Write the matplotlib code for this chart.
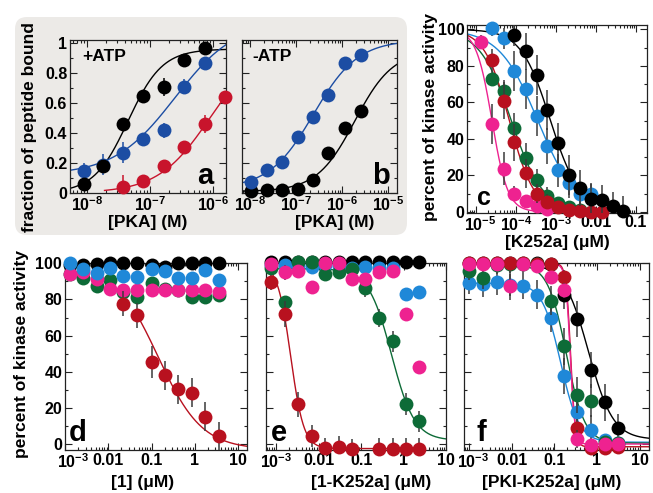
import numpy as np
import matplotlib
matplotlib.use('Agg')
import matplotlib.pyplot as plt
from matplotlib.ticker import FixedLocator, FixedFormatter, LogLocator, MultipleLocator, NullFormatter
from matplotlib.patches import FancyBboxPatch
from matplotlib.transforms import ScaledTranslation

plt.rcParams['font.family'] = ['Liberation Sans', 'DejaVu Sans']
plt.rcParams['font.weight'] = 'bold'
plt.rcParams['mathtext.fontset'] = 'custom'
plt.rcParams['mathtext.rm'] = 'Liberation Sans:bold'
plt.rcParams['mathtext.bf'] = 'Liberation Sans:bold'
plt.rcParams['mathtext.it'] = 'Liberation Sans:bold'
plt.rcParams['mathtext.sf'] = 'Liberation Sans:bold'

# ---------------- colours ----------------
BLACK = '#000000'
BLUE_AB = '#1c4da3'
RED_AB = '#c8142c'
BLUE = '#1f88d8'
GREEN = '#0d6b37'
RED = '#b8111f'
PINK = '#ee2290'
EBAR = '#3a3a3a'

# ---------------- panel a (+ATP) ----------------
a_x = [8.9e-9, 1.82e-8, 3.8e-8, 7.9e-8, 1.7e-7, 3.47e-7, 7.4e-7]
a_black = [0.06, 0.18, 0.46, 0.65, 0.71, 0.89, 0.97]
a_black_err = [0.02, 0.03, 0.04, 0.03, 0.06, 0.03, 0.03]
a_blue = [0.15, 0.19, 0.27, 0.36, 0.42, 0.71, 0.87]
a_blue_err = [0.05, 0.07, 0.07, 0.04, 0.05, 0.05, 0.03]
a_red_x = [3.8e-8, 7.9e-8, 1.7e-7, 3.47e-7, 7.4e-7, 1.55e-6]
a_red = [0.04, 0.08, 0.18, 0.31, 0.46, 0.64]
a_red_err = [0.08, 0.03, 0.02, 0.03, 0.06, 0.02]
# fitted binding curves (bottom, top, K, n)
a_black_fit = (0.0, 0.96, 4.5e-8, 1.6)
a_blue_fit = (0.12, 1.15, 2.5e-7, 0.9)
a_red_fit = (0.0, 1.0, 9e-7, 1.05)

# ---------------- panel b (-ATP) ----------------
b_x = [1.05e-8, 2.29e-8, 4.9e-8, 1.12e-7, 2.4e-7, 5.0e-7, 1.17e-6, 2.57e-6]
b_blue = [0.075, 0.153, 0.21, 0.375, 0.505, 0.655, 0.864, 0.92]
b_black = [0.015, 0.02, 0.02, 0.027, 0.087, 0.265, 0.435, 0.545]
b_blue_fit = (0.03, 1.02, 2.4e-7, 0.9)
b_black_fit = (0.01, 0.95, 1.9e-6, 1.05)

# ---------------- panel c (K252a) ----------------
c_black_x = [9.1e-5, 1.78e-4, 3.31e-4, 6.03e-4, 1.12e-3, 2.14e-3, 3.98e-3, 7.59e-3, 1.38e-2, 2.69e-2, 4.79e-2]
c_black = [97, 88, 75, 56, 37.5, 20, 13, 7, 6.5, 3, 0.5]
c_black_err = [6, 10, 11, 11, 11, 11, 10, 9, 8, 8, 8]
c_blue_x = [2.51e-5, 5.0e-5, 9.1e-5, 1.78e-4, 3.31e-4, 6.03e-4, 1.12e-3, 2.14e-3, 3.98e-3, 7.59e-3]
c_blue = [100.5, 95, 77, 67.5, 52.5, 36, 22.8, 15.6, 9.7, 9.5]
c_blue_err = [4, 6, 11, 11, 11, 10, 9, 8, 6, 6]
c_green_x = [2.51e-5, 5.0e-5, 9.1e-5, 1.78e-4, 3.31e-4, 6.03e-4, 1.12e-3, 2.14e-3, 3.98e-3]
c_green = [73, 66, 46, 29.5, 17.3, 8.5, 5, 2.5, 1]
c_green_err = [4, 6, 8, 8, 6, 5, 3, 2, 1]
c_red_x = [2.51e-5, 5.0e-5, 9.1e-5, 1.78e-4, 3.31e-4, 6.03e-4, 1.12e-3, 2.14e-3, 3.98e-3, 7.59e-3, 1.38e-2]
c_red = [83, 61, 38, 21, 10, 5.5, 2.7, 1, 0.5, 0, 0]
c_red_err = [6, 10, 10, 8, 5, 4, 2, 1, 1, 1, 1]
c_pink_x = [1.32e-5, 2.51e-5, 5.0e-5, 9.1e-5, 1.78e-4, 3.31e-4, 6.03e-4]
c_pink = [93, 48, 23.7, 10, 5.8, 3, 1.3]
c_pink_err = [4, 11, 9, 4, 2, 1, 1]
# inhibition fits (top, bottom, IC50, n, x_start, x_end)
c_black_fit = (100, 1.5, 7.08e-4, 1.2, 10 ** -5.22, 6e-2)
c_blue_fit = (100, 0, 3.5e-4, 0.9, 10 ** -5.22, 1e-2)
c_green_fit = (100, 0, 7.6e-5, 1.1, 10 ** -5.22, 5e-3)
c_red_fit = (100, 0, 6.8e-5, 1.4, 10 ** -5.22, 1.5e-2)
c_pink_fit = (100, 0, 2.5e-5, 2.2, 10 ** -5.22, 1e-3)

# ---------------- panel d ([1]) ----------------
d_x = [0.00127, 0.0026, 0.0053, 0.0108, 0.022, 0.045, 0.101, 0.206, 0.42, 0.86, 1.75, 3.7]
d_black = [99, 99, 99.5, 100, 100, 100, 99, 98, 100, 100, 100, 100]
d_blue = [100.3, 96.6, 94.7, 97.4, 93, 92.3, 96.6, 95.5, 92, 91.8, 96.5, 91]
d_green = [94.3, 91.8, 87.5, 91, 84, 81.5, 89, 86, 85, 81.2, 81.2, 82.3]
d_pink = [94, 95, 91.4, 85.8, 85.5, 85, 85, 85, 85, 85, 85, 84]
d_red = [np.nan, np.nan, np.nan, np.nan, 77.6, 71.2, 45.4, 38, 30.4, 28.4, 15.1, 4.2]
d_red_err = [3, 3, 3, 3, 7, 7, 9, 8, 8, 8, 8, 8]
d_small_err = [3, 4, 3, 3, 3, 3, 3, 3, 3, 3, 3, 3]
d_red_fit = (100, -3, 0.141, 0.85, 0.04, 17)

# ---------------- panel e ([1-K252a]) ----------------
e_x = [7.8e-4, 1.62e-3, 3.3e-3, 6.9e-3, 1.41e-2, 2.95e-2, 6.2e-2, 0.126, 0.263, 0.55, 1.12, 2.34]
e_black = [100.5] * 12
e_blue = [99, 99, 99, 98, 99, 98.5, 97.5, 98, 97.5, 97.5, 83, 84]
e_green = [97.5, 78.5, 100.5, 100.5, 94, 95, 97, 86.5, 69.8, 56.8, 22, 12.5]
e_green_err = [3, 3, 2, 2, 3, 3, 3, 5, 5, 6, 6, 6]
e_pink = [99.6, 95, 96, 86.8, 100, 100, 91.4, 91.4, 95, 96, 72, 42.7]
e_pink_err = [3, 4, 3, 3, 2, 2, 3, 3, 2, 2, 2, 3]
e_red = [89.5, 72, 22, 4.5, -2.4, -1.5, -3, np.nan, -2.5, -2.5, -2.7, -2.7]
e_red_err = [4, 7, 7, 6, 6, 6, 6, 6, 6, 6, 6, 6]
e_red_fit = (100, -2.5, 2.2e-3, 2.8, 10 ** -3.23, 2.5)
e_green_fit = (97, 2, 0.52, 1.6, 10 ** -3.23, 10.2)

# ---------------- panel f ([PKI-K252a]) ----------------
f_x = [1.0e-3, 2.09e-3, 4.37e-3, 8.9e-3, 1.86e-2, 3.89e-2, 8.1e-2, 0.17, 0.347, 0.72, 1.51, 3.16]
f_black = [100, 100, 100, 100, 100, 100, 99.6, 82.5, 69, 41, 23, 8.7]
f_black_err = [1, 1, 1, 1, 1, 1, 2, 8, 10, 10, 10, 8]
f_blue = [89, 88.6, 89.5, 88, 87.5, 82.5, 69.8, 37.5, 17.8, 8, 2, 0.4]
f_blue_err = [6, 7, 7, 6, 7, 8, 8, 10, 10, 8, 3, 2]
f_green = [96, 92, 99, 99.6, 99.6, 99.6, 79.4, 54, 27, 24, 1, 0.4]
f_green_err = [5, 6, 5, 5, 5, 5, 8, 10, 10, 9, 3, 2]
f_red = [100, 100, 100, 100, 100, 99.5, 99.6, 92.3, 9, -2.4, -2.4, -1.5]
f_red_err = [2, 2, 2, 2, 2, 2, 2, 4, 5, 2, 2, 2]
f_pink = [99.6, 99.6, 99.6, 87.7, 99.6, 98.7, 92.3, 85, 3, -0.5, 0, 0]
f_pink_err = [2, 2, 2, 8, 2, 2, 3, 4, 5, 2, 2, 2]
f_black_fit = (100, 2.5, 0.63, 1.5, 10 ** -3.12, 17)
f_blue_fit = (89, 1, 0.14, 2.0, 10 ** -3.12, 17)
f_green_fit = (99.5, 0.5, 0.19, 2.0, 10 ** -3.12, 17)
f_red_fit = (100, -1.5, 0.24, 8, 10 ** -3.12, 17)
f_pink_fit = (99.5, 0, 0.235, 8, 10 ** -3.12, 17)

# tick labels
ab_ylabels = ['0', '0.2', '0.4', '0.6', '0.8', '1']
a_xticks = [1e-8, 1e-7, 1e-6]
a_xlabels = [r'$10^{-8}$', r'$10^{-7}$', r'$10^{-6}$']
b_xticks = [1e-8, 1e-7, 1e-6, 1e-5]
b_xlabels = [r'$10^{-8}$', r'$10^{-7}$', r'$10^{-6}$', r'$10^{-5}$']
c_xticks = [1e-5, 1e-4, 1e-3, 1e-2, 1e-1]
c_xlabels = [r'$10^{-5}$', r'$10^{-4}$', r'$10^{-3}$', '0.01', '0.1']
def_xticks = [1e-3, 1e-2, 1e-1, 1, 10]
def_xlabels = [r'$10^{-3}$', '0.01', '0.1', '1', '10']
pct_yticks = [0, 20, 40, 60, 80, 100]
pct_ylabels = ['0', '20', '40', '60', '80', '100']


def rise(x, p):
    bottom, top, k, n = p
    return bottom + (top - bottom) / (1 + (k / x) ** n)


def fall(x, p):
    top, bottom, ic50, n = p[:4]
    return bottom + (top - bottom) / (1 + (x / ic50) ** n)


W, H = 653, 493
fig = plt.figure(figsize=(W / 100, H / 100), dpi=100)
fig.patch.set_facecolor('white')

# grey rounded box behind panels a and b
box = FancyBboxPatch((15, H - 235), 392, 218, boxstyle='round,pad=0,rounding_size=12',
                     transform=None, facecolor='#eceae7', edgecolor='none', zorder=-5)
fig.patches.append(box)

LBL = 12.5
TICK = 11.5


def make_ax(x0, x1, y0, y1):
    return fig.add_axes([x0 / W, 1 - y1 / H, (x1 - x0) / W, (y1 - y0) / H])


def style(ax, xlim, xticks, xlabels, ylim, yticks, ylabels, yminor):
    ax.set_xscale('log')
    ax.set_xlim(*xlim)
    ax.set_ylim(*ylim)
    ax.xaxis.set_major_locator(FixedLocator(xticks))
    ax.xaxis.set_major_formatter(FixedFormatter(xlabels))
    ax.xaxis.set_minor_locator(LogLocator(base=10, subs=np.arange(2, 10), numticks=30))
    ax.xaxis.set_minor_formatter(NullFormatter())
    ax.yaxis.set_major_locator(FixedLocator(yticks))
    if ylabels is None:
        ax.yaxis.set_major_formatter(NullFormatter())
    else:
        ax.yaxis.set_major_formatter(FixedFormatter(ylabels))
    ax.yaxis.set_minor_locator(MultipleLocator(yminor))
    ax.tick_params(which='both', direction='in', top=True, right=True, labelsize=TICK, pad=2,
                   width=0.8, color='#222222')
    ax.tick_params(which='major', length=5)
    ax.tick_params(which='minor', length=2.5)
    for s in ax.spines.values():
        s.set_linewidth(0.9)
        s.set_color('#222222')


def nudge_first_xlabel(ax, dx_px):
    lab = ax.xaxis.get_major_ticks()[0].label1
    lab.set_transform(lab.get_transform() + ScaledTranslation(dx_px / 100, 0, fig.dpi_scale_trans))


def pts(ax, x, y, err, color, ecolor, z):
    if err is not None:
        ax.errorbar(x, y, yerr=err, fmt='none', ecolor=ecolor, elinewidth=1.1, capsize=0, zorder=z - 0.5)
    ax.plot(x, y, 'o', ms=10, color=color, mec='none', zorder=z, clip_on=False)


def fit_rise(ax, p, lo, hi, color):
    xs = np.logspace(np.log10(lo), np.log10(hi), 400)
    ax.plot(xs, rise(xs, p), color=color, lw=1.0, zorder=2)


def fit_fall(ax, p, color):
    xs = np.logspace(np.log10(p[4]), np.log10(p[5]), 400)
    ax.plot(xs, fall(xs, p), color=color, lw=1.0, zorder=2)


# ---- panel a ----
axa = make_ax(70, 226, 40, 193)
axa.set_facecolor('none')
a_xlim = (10 ** -8.27, 10 ** -5.79)
style(axa, a_xlim, a_xticks, a_xlabels, (0, 1.02), [0, 0.2, 0.4, 0.6, 0.8, 1.0], ab_ylabels, 0.1)
fit_rise(axa, a_black_fit, a_xlim[0], a_xlim[1], BLACK)
fit_rise(axa, a_blue_fit, a_xlim[0], a_xlim[1], BLUE_AB)
fit_rise(axa, a_red_fit, 1.9e-8, a_xlim[1], RED_AB)
pts(axa, a_red_x, a_red, a_red_err, RED_AB, RED_AB, 4)
pts(axa, a_x, a_blue, a_blue_err, BLUE_AB, BLUE_AB, 5)
pts(axa, a_x, a_black, a_black_err, BLACK, BLACK, 6)
axa.text(0.08, 0.89, '+ATP', transform=axa.transAxes, fontsize=12.5, fontweight='bold', va='center')
axa.text(0.87, 0.11, 'a', transform=axa.transAxes, fontsize=21, fontweight='bold', va='center', ha='center')

# ---- panel b ----
axb = make_ax(241.7, 396.7, 40, 193)
axb.set_facecolor('none')
b_xlim = (10 ** -8.18, 10 ** -4.81)
style(axb, b_xlim, b_xticks, b_xlabels, (0, 1.02), [0, 0.2, 0.4, 0.6, 0.8, 1.0], None, 0.1)
fit_rise(axb, b_blue_fit, b_xlim[0], b_xlim[1], BLUE_AB)
fit_rise(axb, b_black_fit, b_xlim[0], b_xlim[1], BLACK)
pts(axb, b_x, b_black, None, BLACK, BLACK, 4)
pts(axb, b_x, b_blue, None, BLUE_AB, BLUE_AB, 5)
axb.text(0.07, 0.89, '-ATP', transform=axb.transAxes, fontsize=12.5, fontweight='bold', va='center')
axb.text(0.9, 0.11, 'b', transform=axb.transAxes, fontsize=21, fontweight='bold', va='center', ha='center')

fig.text(30 / W, 1 - 127 / H, 'fraction of peptide bound', rotation=90, ha='center', va='center', fontsize=LBL)
fig.text(148 / W, 1 - 222 / H, '[PKA] (M)', ha='center', va='center', fontsize=LBL)
fig.text(335 / W, 1 - 222 / H, '[PKA] (M)', ha='center', va='center', fontsize=LBL)

# ---- panel c ----
axc = make_ax(467.3, 646.7, 25, 212.7)
c_xlim = (10 ** -5.22, 10 ** -0.73)
style(axc, c_xlim, c_xticks, c_xlabels, (-0.5, 102.4), pct_yticks, pct_ylabels, 10)
nudge_first_xlabel(axc, 4)
fit_fall(axc, c_black_fit, BLACK)
fit_fall(axc, c_blue_fit, BLUE)
fit_fall(axc, c_green_fit, GREEN)
fit_fall(axc, c_red_fit, RED)
fit_fall(axc, c_pink_fit, PINK)
pts(axc, c_pink_x, c_pink, c_pink_err, PINK, EBAR, 4)
pts(axc, c_green_x, c_green, c_green_err, GREEN, EBAR, 5)
pts(axc, c_red_x, c_red, c_red_err, RED, EBAR, 6)
pts(axc, c_blue_x, c_blue, c_blue_err, BLUE, EBAR, 7)
pts(axc, c_black_x, c_black, c_black_err, BLACK, EBAR, 8)
axc.text(0.09, 0.08, 'c', transform=axc.transAxes, fontsize=18, fontweight='bold', va='center', ha='center')
fig.text(431 / W, 1 - 117 / H, 'percent of kinase activity', rotation=90, ha='center', va='center', fontsize=LBL)
fig.text(557 / W, 1 - 243 / H, '[K252a] (\u03bcM)', ha='center', va='center', fontsize=LBL)

# ---- panel d ----
pct_ylim = (-3.3, 100)
axd = make_ax(65, 246.7, 263.3, 450)
d_xlim = (10 ** -3.01, 10 ** 1.21)
style(axd, d_xlim, def_xticks, def_xlabels, pct_ylim, pct_yticks, pct_ylabels, 10)
nudge_first_xlabel(axd, 8)
fit_fall(axd, d_red_fit, RED)
pts(axd, d_x, d_black, None, BLACK, EBAR, 3)
pts(axd, d_x, d_green, d_small_err, GREEN, EBAR, 4)
pts(axd, d_x, d_pink, d_small_err, PINK, EBAR, 5)
pts(axd, d_x, d_blue, None, BLUE, EBAR, 6)
pts(axd, d_x, d_red, d_red_err, RED, EBAR, 7)
axd.text(0.07, 0.09, 'd', transform=axd.transAxes, fontsize=21, fontweight='bold', va='center', ha='center')
fig.text(22 / W, 1 - 354 / H, 'percent of kinase activity', rotation=90, ha='center', va='center', fontsize=LBL)
fig.text(143 / W, 1 - 482 / H, '[1] (\u03bcM)', ha='center', va='center', fontsize=LBL)

# ---- panel e ----
axe = make_ax(266.3, 446.3, 263.3, 450)
e_xlim = (10 ** -3.23, 10 ** 1.005)
style(axe, e_xlim, def_xticks, def_xlabels, pct_ylim, pct_yticks, None, 10)
fit_fall(axe, e_red_fit, RED)
fit_fall(axe, e_green_fit, GREEN)
pts(axe, e_x, e_black, None, BLACK, EBAR, 3)
pts(axe, e_x, e_blue, None, BLUE, EBAR, 4)
pts(axe, e_x, e_green, e_green_err, GREEN, EBAR, 5)
pts(axe, e_x, e_pink, e_pink_err, PINK, EBAR, 6)
pts(axe, e_x, e_red, e_red_err, RED, EBAR, 7)
axe.text(0.07, 0.09, 'e', transform=axe.transAxes, fontsize=21, fontweight='bold', va='center', ha='center')
fig.text(371 / W, 1 - 482 / H, '[1-K252a] (\u03bcM)', ha='center', va='center', fontsize=LBL)

# ---- panel f ----
axf = make_ax(464.3, 649.3, 263.3, 450)
f_xlim = (10 ** -3.12, 10 ** 1.23)
style(axf, f_xlim, def_xticks, def_xlabels, pct_ylim, pct_yticks, None, 10)
nudge_first_xlabel(axf, 4)
fit_fall(axf, f_black_fit, BLACK)
fit_fall(axf, f_blue_fit, BLUE)
fit_fall(axf, f_green_fit, GREEN)
fit_fall(axf, f_red_fit, RED)
fit_fall(axf, f_pink_fit, PINK)
pts(axf, f_x, f_black, f_black_err, BLACK, EBAR, 3)
pts(axf, f_x, f_blue, f_blue_err, BLUE, EBAR, 4)
pts(axf, f_x, f_green, f_green_err, GREEN, EBAR, 5)
pts(axf, f_x, f_red, f_red_err, RED, EBAR, 6)
pts(axf, f_x, f_pink, f_pink_err, PINK, EBAR, 7)
axf.text(0.09, 0.09, 'f', transform=axf.transAxes, fontsize=21, fontweight='bold', va='center', ha='center')
fig.text(552 / W, 1 - 482 / H, '[PKI-K252a] (\u03bcM)', ha='center', va='center', fontsize=LBL)

fig.savefig('out.png', dpi=100)
